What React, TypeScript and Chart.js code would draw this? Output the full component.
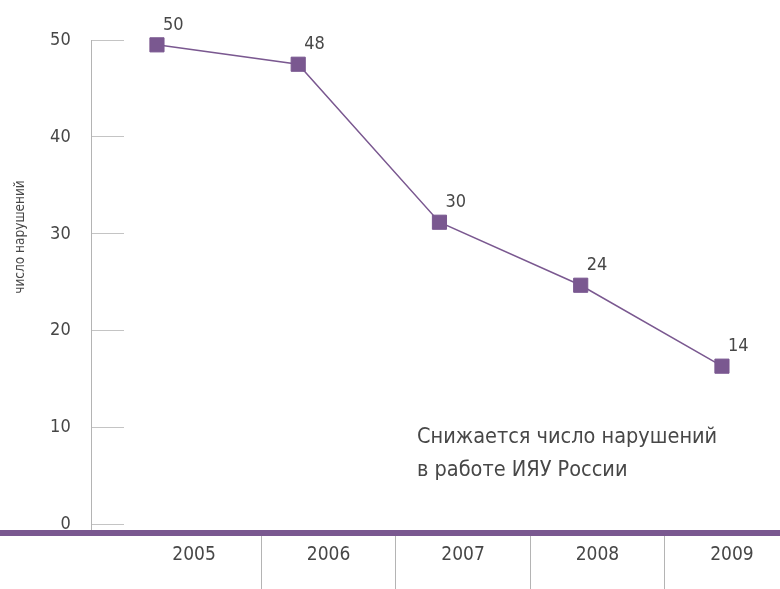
import React, { useEffect, useRef } from 'react';
import { Chart, registerables } from 'chart.js';

Chart.register(...registerables);

// ---- data ----
const years = ['2005', '2006', '2007', '2008', '2009'];
const violations = [49.5, 47.5, 31.2, 24.7, 16.35];
const pointLabels = ['50', '48', '30', '24', '14'];
const yTicks = [0, 10, 20, 30, 40, 50];
const yTitle = 'число нарушений';
const noteLines = ['Снижается число нарушений', 'в работе ИЯУ России'];

// ---- style ----
const FONT = "'Liberation Sans Narrow', 'DejaVu Sans Condensed', 'Roboto Condensed', 'Roboto', sans-serif";
const PURPLE = '#7a5890';
const TEXT = '#474747';
const GRAY = '#b4b4b4';

const decorations = {
  id: 'decorations',
  afterDraw(chart: any) {
    const { ctx } = chart;
    const x2 = chart.scales.x2;
    ctx.save();
    // full-width baseline
    ctx.fillStyle = PURPLE;
    ctx.fillRect(0, x2.top - 3, chart.width, 6);

    // point labels
    const meta = chart.getDatasetMeta(0);
    ctx.fillStyle = TEXT;
    ctx.font = `18px ${FONT}`;
    ctx.textAlign = 'left';
    ctx.textBaseline = 'alphabetic';
    meta.data.forEach((pt: any, i: number) => {
      ctx.fillText(pointLabels[i], pt.x + 6, pt.y - 15);
    });

    // y axis title
    ctx.save();
    ctx.translate(20, 237);
    ctx.rotate(-Math.PI / 2);
    ctx.font = `13.5px ${FONT}`;
    ctx.textAlign = 'center';
    ctx.textBaseline = 'middle';
    ctx.fillText(yTitle, 0, 0);
    ctx.restore();

    // note
    ctx.font = `21.5px ${FONT}`;
    ctx.textAlign = 'left';
    ctx.textBaseline = 'alphabetic';
    noteLines.forEach((line, i) => {
      ctx.fillText(line, 417, 443 + i * 32.5);
    });
    ctx.restore();
  },
};

export default function App() {
  const ref = useRef<HTMLCanvasElement | null>(null);

  useEffect(() => {
    document.body.style.margin = '0';
    if (!ref.current) return;
    Chart.defaults.font.family = FONT;
    const chart = new Chart(ref.current, {
      type: 'line',
      data: {
        datasets: [
          {
            data: years.map((y, i) => ({ x: Number(y), y: violations[i] })),
            borderColor: PURPLE,
            borderWidth: 1.5,
            pointStyle: 'rect',
            pointRadius: 10,
            pointHoverRadius: 10,
            pointBorderWidth: 1,
            pointBackgroundColor: PURPLE,
            pointBorderColor: PURPLE,
            tension: 0,
            clip: false as any,
          },
        ],
      },
      options: {
        animation: false,
        responsive: true,
        maintainAspectRatio: false,
        events: [],
        layout: { autoPadding: false, padding: { top: 40, right: 0, bottom: 0, left: 0 } },
        plugins: { legend: { display: false }, tooltip: { enabled: false }, title: { display: false } },
        scales: {
          x: {
            type: 'linear',
            display: false,
            min: 2004.533,
            max: 2009.411,
          },
          x2: {
            type: 'linear',
            position: 'bottom',
            min: 2004.234,
            max: 2009.357,
            afterBuildTicks: (s: any) => {
              s.ticks = years.map((y) => ({ value: Number(y) }));
            },
            afterFit: (s: any) => {
              s.height = 56;
              s.paddingLeft = 0;
              s.paddingRight = 0;
              s.paddingTop = 0;
              s.paddingBottom = 0;
            },
            border: { display: false },
            grid: {
              offset: true,
              drawOnChartArea: false,
              drawTicks: true,
              tickLength: 56,
              lineWidth: 1,
              color: (c: any) => (c.index === 0 ? 'rgba(0,0,0,0)' : GRAY),
            },
            ticks: {
              padding: -45.5,
              color: TEXT,
              font: { size: 19, family: FONT },
              maxRotation: 0,
              autoSkip: false,
              callback: (v: any) => years.find((y) => Number(y) === v) ?? '',
            },
          },
          y: {
            type: 'linear',
            position: 'left',
            min: -0.86,
            max: 50,
            afterBuildTicks: (s: any) => {
              s.ticks = yTicks.map((v) => ({ value: v }));
            },
            afterFit: (s: any) => {
              s.width = 91;
              s.paddingTop = 0;
              s.paddingBottom = 0;
              s.paddingLeft = 0;
              s.paddingRight = 0;
            },
            border: { display: true, color: GRAY, width: 1 },
            grid: {
              drawOnChartArea: false,
              drawTicks: true,
              tickLength: -33,
              color: '#c4c4c4',
              lineWidth: 1,
            },
            ticks: {
              padding: 53.3,
              color: TEXT,
              font: { size: 18, family: FONT },
            },
          },
        },
      },
      plugins: [decorations],
    });
    return () => chart.destroy();
  }, []);

  return (
    <div style={{ width: 780, height: 589, position: 'relative', overflow: 'hidden' }}>
      <canvas ref={ref} style={{ display: 'block' }} />
    </div>
  );
}
